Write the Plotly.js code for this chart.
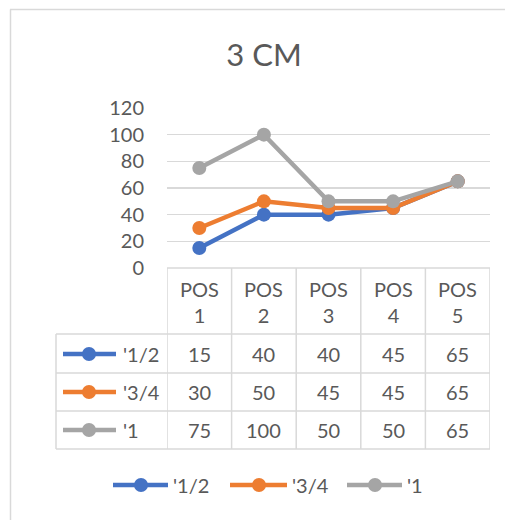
<!DOCTYPE html>
<html><head><meta charset="utf-8">
<script src="https://cdn.plot.ly/plotly-3.0.1.min.js"></script>
<style>html,body{margin:0;padding:0;background:#fff}</style>
</head><body><div id="chart" style="width:505px;height:520px"></div>
<script>
const categories = ["POS 1","POS 2","POS 3","POS 4","POS 5"];
const catLabels = ["POS<br>1","POS<br>2","POS<br>3","POS<br>4","POS<br>5"];
const seriesNames = ["'1/2","'3/4","'1"];
const half = [15,40,40,45,65];
const threeQuarter = [30,50,45,45,65];
const one = [75,100,50,50,65];
const colors = ["#4472C4","#ED7D31","#A5A5A5"];
const seriesValues = [half, threeQuarter, one];

const W=505,H=520, L=167, R=490, T=108, B=268;
const px = p => (p-L)/(R-L);
const py = p => (B-p)/(B-T);
const txt = "#595959", grid="#D9D9D9";
const FONT = "Lato, 'Open Sans', sans-serif";

const traces = seriesValues.map((v,i)=>({
  type:'scatter', mode:'lines+markers', x:categories, y:v, name:seriesNames[i],
  line:{color:colors[i], width:4.5}, marker:{color:colors[i], size:14},
  showlegend:false, hoverinfo:'skip'
}));

const shapes=[], annotations=[];
// chart border
shapes.push({type:'line',xref:'paper',yref:'paper',x0:px(10),x1:px(505),y0:py(9.5),y1:py(9.5),line:{color:grid,width:1.5}});
shapes.push({type:'line',xref:'paper',yref:'paper',x0:px(10.5),x1:px(10.5),y0:py(9.5),y1:py(520),line:{color:grid,width:1.5}});
// table grid
const rowY=[268,334,373,411,449];
rowY.forEach((y,k)=>{
  shapes.push({type:'line',xref:'paper',yref:'paper',x0:px(k===0?167:56),x1:px(490),y0:py(y),y1:py(y),line:{color:grid,width:1.5}});
});
for(let j=0;j<=categories.length;j++){
  shapes.push({type:'line',xref:'x',yref:'paper',x0:j-0.5,x1:j-0.5,y0:py(268),y1:py(449),line:{color:grid,width:1.5}});
}
shapes.push({type:'line',xref:'paper',yref:'paper',x0:px(56),x1:px(56),y0:py(334),y1:py(449),line:{color:grid,width:1.5}});
// header labels
categories.forEach((c,j)=>{
  annotations.push({xref:'x',yref:'paper',x:j,y:py(302),text:catLabels[j],showarrow:false,
    font:{family:FONT,size:20,color:txt},align:'center',yanchor:'middle'});
});
const rowC=[354,392,430];
seriesValues.forEach((v,i)=>{
  // key
  shapes.push({type:'line',xref:'paper',yref:'paper',x0:px(63),x1:px(116),y0:py(rowC[i]),y1:py(rowC[i]),line:{color:colors[i],width:4.5}});
  shapes.push({type:'circle',xref:'paper',yref:'paper',x0:px(82),x1:px(96),y0:py(rowC[i]-7),y1:py(rowC[i]+7),fillcolor:colors[i],line:{width:0}});
  annotations.push({xref:'paper',yref:'paper',x:px(121),y:py(rowC[i]),text:seriesNames[i],showarrow:false,xanchor:'left',yanchor:'middle',
    font:{family:FONT,size:20,color:txt}});
  v.forEach((val,j)=>{
    annotations.push({xref:'x',yref:'paper',x:j,y:py(rowC[i]),text:String(val),showarrow:false,yanchor:'middle',
      font:{family:FONT,size:20,color:txt}});
  });
});
// bottom legend
const legLine=[[113,168],[230,287],[347,402]];
seriesNames.forEach((n,i)=>{
  const [a,b]=legLine[i], c=(a+b)/2+0.5;
  shapes.push({type:'line',xref:'paper',yref:'paper',x0:px(a),x1:px(b),y0:py(485),y1:py(485),line:{color:colors[i],width:4.5}});
  shapes.push({type:'circle',xref:'paper',yref:'paper',x0:px(c-7),x1:px(c+7),y0:py(478),y1:py(492),fillcolor:colors[i],line:{width:0}});
  annotations.push({xref:'paper',yref:'paper',x:px(b+3),y:py(485),text:n,showarrow:false,xanchor:'left',yanchor:'middle',
    font:{family:FONT,size:20,color:txt}});
});

const layout={
  width:W,height:H,margin:{l:L,r:W-R,t:T,b:H-B},
  paper_bgcolor:'#fff',plot_bgcolor:'#fff',
  title:{text:'3 CM',font:{family:FONT,size:31,color:txt},x:264/W,xanchor:'center',y:1-55/H,yanchor:'middle'},
  xaxis:{type:'category',categoryorder:'array',categoryarray:categories,range:[-0.5,4.5],showticklabels:false,showgrid:false,zeroline:false,showline:false,ticks:''},
  yaxis:{range:[0,120],dtick:20,tick0:0,showgrid:true,gridcolor:grid,gridwidth:1.5,zeroline:false,showline:false,ticks:'',
    ticklabelstandoff:22,tickfont:{family:FONT,size:20,color:txt}},
  showlegend:false,shapes:shapes,annotations:annotations
};
Plotly.newPlot('chart',traces,layout,{staticPlot:true,displayModeBar:false});
</script></body></html>
